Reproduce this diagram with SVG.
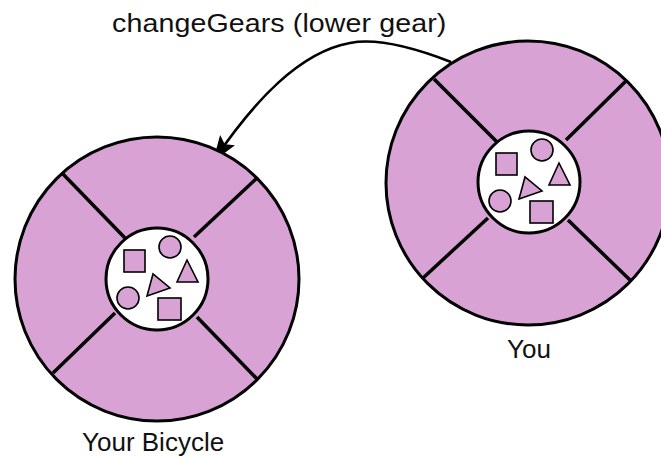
<svg xmlns="http://www.w3.org/2000/svg" xmlns:xlink="http://www.w3.org/1999/xlink" width="661" height="457" viewBox="0 0 661 457">
<style>
.outer{fill:#d8a3d4;stroke:#000;stroke-width:3}
.spoke{stroke:#000;stroke-width:3.5;fill:none}
.inner{fill:#fff;stroke:#000;stroke-width:3}
.shape{fill:#d8a3d4;stroke:#000;stroke-width:1.6}
.lbl{font-family:"Liberation Sans",Arial,sans-serif;font-size:26px;fill:#111}
.conn{fill:none;stroke:#000;stroke-width:2.6}
</style>
<defs>
<marker id="ah" markerUnits="userSpaceOnUse" markerWidth="26" markerHeight="20" refX="24" refY="10" orient="auto" viewBox="0 0 26 20">
<path d="M0,1 L26,10 L0,19 L5,10 z" fill="#000"/>
</marker>
<g id="contents">
<rect class="shape" x="-33" y="-29" width="21" height="22"/>
<circle class="shape" cx="13" cy="-32" r="11"/>
<polygon class="shape" points="30,-19 20,3 41,3"/>
<polygon class="shape" points="-10,17 -4,-5 13,9"/>
<circle class="shape" cx="-29" cy="19" r="11"/>
<rect class="shape" x="1" y="19" width="23" height="22"/>
</g>
</defs>
<g id="connectors">
<path class="conn" d="M451,62 C410,46 375,38 350,43 C300,52 255,100 214,160" marker-end="url(#ah)"/>
</g>
<g id="bicycle">
<circle class="outer" cx="157" cy="279" r="142"/>
<line class="spoke" x1="62" y1="173" x2="125" y2="238"/>
<line class="spoke" x1="257" y1="178" x2="194" y2="237"/>
<line class="spoke" x1="53" y1="373" x2="115" y2="313"/>
<line class="spoke" x1="258" y1="380" x2="197" y2="317"/>
<circle class="inner" cx="157" cy="279" r="51"/>
<use xlink:href="#contents" transform="translate(157,279)"/>
<text class="lbl" x="82" y="451">Your Bicycle</text>
</g>
<g id="you">
<circle class="outer" cx="528" cy="183" r="142"/>
<line class="spoke" x1="434" y1="79" x2="497" y2="142"/>
<line class="spoke" x1="627" y1="80" x2="566" y2="140"/>
<line class="spoke" x1="423" y1="278" x2="488" y2="218"/>
<line class="spoke" x1="630" y1="280" x2="568" y2="220"/>
<circle class="inner" cx="529" cy="182" r="51"/>
<use xlink:href="#contents" transform="translate(529,182)"/>
<text class="lbl" x="507" y="358">You</text>
</g>
<g id="label">
<text class="lbl" transform="translate(112,32) scale(1.1,1)" x="0" y="0" textLength="304" lengthAdjust="spacing">changeGears (lower gear)</text>
</g>
</svg>
